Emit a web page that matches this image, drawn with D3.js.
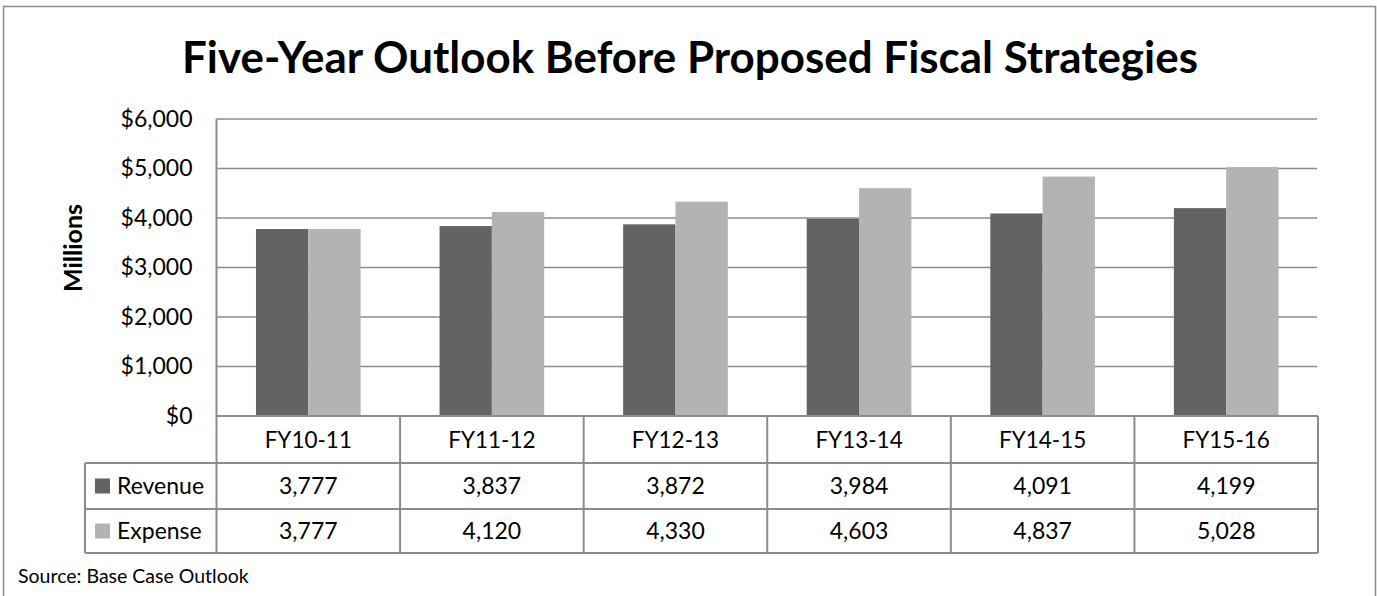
<!DOCTYPE html>
<html>
<head>
<meta charset="utf-8">
<script src="https://cdn.jsdelivr.net/npm/d3@7"></script>
<style>
  html, body { margin: 0; padding: 0; background: #fff; }
  svg { display: block; font-family: Lato, "Open Sans", sans-serif; }
</style>
</head>
<body>
<svg id="chart" width="1377" height="596"></svg>
<script>
// Budget outlook data (millions of dollars)
const categories = ["FY10-11", "FY11-12", "FY12-13", "FY13-14", "FY14-15", "FY15-16"];
const seriesNames = ["Revenue", "Expense"];
const revenue = [3777, 3837, 3872, 3984, 4091, 4199];
const expense = [3777, 4120, 4330, 4603, 4837, 5028];
const yTicks = [0, 1000, 2000, 3000, 4000, 5000, 6000];

const colors = { Revenue: "#636363", Expense: "#b3b3b3" };
const lineColor = "#8c8c8c";

const svg = d3.select("#chart");

// outer frame
svg.append("rect")
  .attr("x", 3.5).attr("y", 6.5)
  .attr("width", 1372).attr("height", 600)
  .attr("fill", "none").attr("stroke", "#8a8a8a").attr("stroke-width", 1.5);

// title
const title = svg.append("text")
  .attr("x", 690).attr("y", 73)
  .attr("text-anchor", "middle")
  .attr("font-size", 44).attr("font-weight", "bold").attr("fill", "#000")
  .text("Five-Year Outlook Before Proposed Fiscal Strategies");
const titleWidth = 1016;
if (title.node().getComputedTextLength() > titleWidth) {
  title.attr("textLength", titleWidth).attr("lengthAdjust", "spacingAndGlyphs");
}

// geometry
const plotLeft = 216.5, plotRight = 1318, plotTop = 119, plotBottom = 416;
const rowCat = [416, 463], rowRev = [463, 509], rowExp = [509, 553];
const legendLeft = 85;

const x0 = d3.scaleBand().domain(categories).range([plotLeft, plotRight])
  .paddingInner(0.43).paddingOuter(0.215);
const x1 = d3.scaleBand().domain(seriesNames).range([0, x0.bandwidth()]);
const y = d3.scaleLinear().domain([0, 6000]).range([plotBottom, plotTop]);

// gridlines
svg.append("g").selectAll("line").data(yTicks.filter(d => d > 0)).join("line")
  .attr("x1", plotLeft).attr("x2", plotRight - 1)
  .attr("y1", d => y(d)).attr("y2", d => y(d))
  .attr("stroke", lineColor).attr("stroke-width", 1.5);

// y axis
const yAxis = svg.append("g")
  .attr("transform", `translate(${plotLeft},0)`)
  .call(d3.axisLeft(y).tickValues(yTicks).tickSize(0).tickPadding(24)
    .tickFormat(d => "$" + d3.format(",")(d)));
yAxis.select(".domain").remove();
yAxis.selectAll("text")
  .attr("font-family", "Lato, 'Open Sans', sans-serif")
  .attr("font-size", 23).attr("fill", "#000");

// y axis title
svg.append("text")
  .attr("transform", "translate(82,248) rotate(-90)")
  .attr("text-anchor", "middle")
  .attr("font-size", 25).attr("font-weight", "bold").attr("fill", "#000")
  .text("Millions");

// bars
const data = categories.map((c, i) => ({ cat: c, Revenue: revenue[i], Expense: expense[i] }));
const groups = svg.append("g").selectAll("g").data(data).join("g")
  .attr("transform", d => `translate(${x0(d.cat)},0)`);
groups.selectAll("rect")
  .data(d => seriesNames.map(k => ({ key: k, value: d[k] })))
  .join("rect")
  .attr("x", d => x1(d.key))
  .attr("width", x1.bandwidth())
  .attr("y", d => y(d.value))
  .attr("height", d => y(0) - y(d.value))
  .attr("fill", d => colors[d.key]);

// data table
const step = x0.step();
const colStart = c => x0(c) - x0.paddingOuter() * step;
const table = svg.append("g");
const hLines = [
  { y: rowCat[0], x1: plotLeft, x2: plotRight },
  { y: rowRev[0], x1: legendLeft, x2: plotRight },
  { y: rowExp[0], x1: legendLeft, x2: plotRight },
  { y: rowExp[1], x1: legendLeft, x2: plotRight }
];
table.selectAll("line.h").data(hLines).join("line")
  .attr("x1", d => d.x1).attr("x2", d => d.x2)
  .attr("y1", d => d.y).attr("y2", d => d.y)
  .attr("stroke", lineColor).attr("stroke-width", 2);

const vLines = [
  { x: legendLeft, y1: rowRev[0], y2: rowExp[1] },
  { x: plotLeft, y1: plotTop, y2: rowExp[1] }
].concat(categories.map(c => ({ x: colStart(c) + step, y1: rowCat[0], y2: rowExp[1] })));
table.selectAll("line.v").data(vLines).join("line")
  .attr("x1", d => d.x).attr("x2", d => d.x)
  .attr("y1", d => d.y1).attr("y2", d => d.y2)
  .attr("stroke", lineColor).attr("stroke-width", 2);

// category labels
table.selectAll("text.cat").data(categories).join("text")
  .attr("x", d => x0(d) + x0.bandwidth() / 2)
  .attr("y", (rowCat[0] + rowCat[1]) / 2)
  .attr("dy", "0.36em")
  .attr("text-anchor", "middle")
  .attr("font-size", 22.5).attr("fill", "#000")
  .text(d => d);

// value rows with legend keys
const rows = [
  { key: "Revenue", values: revenue, band: rowRev },
  { key: "Expense", values: expense, band: rowExp }
];
rows.forEach(r => {
  const cy = (r.band[0] + r.band[1]) / 2;
  table.append("rect")
    .attr("x", 95).attr("y", cy - 7.5)
    .attr("width", 15).attr("height", 15)
    .attr("fill", colors[r.key]);
  table.append("text")
    .attr("x", 117).attr("y", cy).attr("dy", "0.36em")
    .attr("font-size", 23).attr("fill", "#000")
    .text(r.key);
  table.selectAll(null).data(r.values).join("text")
    .attr("x", (d, i) => x0(categories[i]) + x0.bandwidth() / 2)
    .attr("y", cy).attr("dy", "0.36em")
    .attr("text-anchor", "middle")
    .attr("font-size", 23).attr("fill", "#000")
    .text(d => d3.format(",")(d));
});

// source note
svg.append("text")
  .attr("x", 18).attr("y", 583)
  .attr("font-size", 19.5).attr("fill", "#000")
  .text("Source: Base Case Outlook");
</script>
</body>
</html>
